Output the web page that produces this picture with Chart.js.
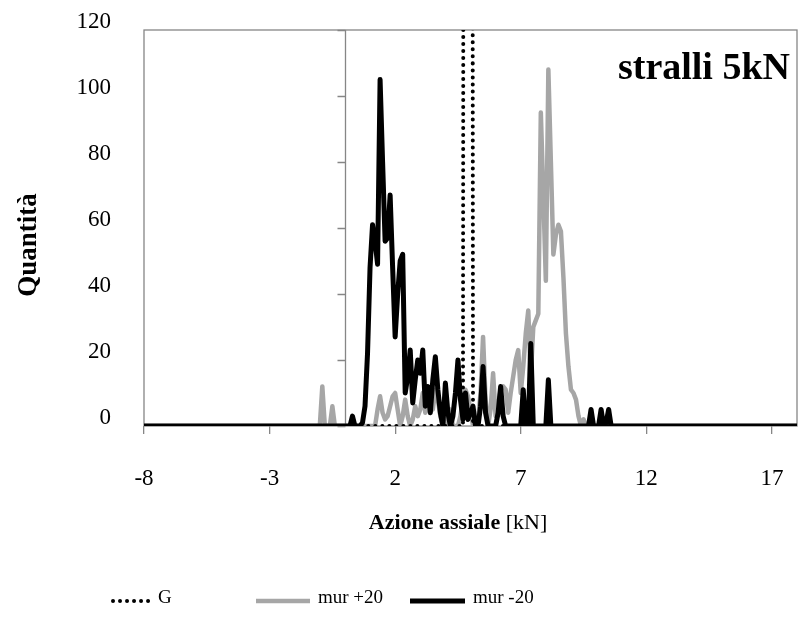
<!DOCTYPE html>
<html><head><meta charset="utf-8">
<script src="https://cdn.jsdelivr.net/npm/chart.js@4.4.0/dist/chart.umd.min.js"></script>
<style>html,body{margin:0;padding:0;background:#fff;}#wrap{width:798px;height:641px;position:relative;}</style>
</head><body><div id="wrap"><canvas id="c" width="798" height="641"></canvas></div>
<script>
// ---- data (histogram bins, kN) ----
const bins = [
 -8,
 -1.2,-1.1,-1.0,-0.9,-0.8,-0.7,-0.6,-0.5,-0.4,-0.3,
 -0.2,-0.1,0.0,0.1,0.2,0.3,0.4,0.5,0.6,0.7,
 0.8,0.9,1.0,1.1,1.2,1.3,1.4,1.5,1.6,1.7,
 1.8,1.9,2.0,2.1,2.2,2.3,2.4,2.5,2.6,2.7,
 2.8,2.9,3.0,3.1,3.2,3.3,3.4,3.5,3.6,3.7,
 3.8,3.9,4.0,4.1,4.2,4.3,4.4,4.5,4.6,4.7,
 4.8,4.9,5.0,5.1,5.2,5.3,5.4,5.5,5.6,5.7,
 5.8,5.9,6.0,6.1,6.2,6.3,6.4,6.5,6.6,6.7,
 6.8,6.9,7.0,7.1,7.2,7.3,7.4,7.5,7.6,7.7,
 7.8,7.9,8.0,8.1,8.2,8.3,8.4,8.5,8.6,8.7,
 8.8,8.9,9.0,9.1,9.2,9.3,9.4,9.5,9.6,9.7,
 9.8,9.9,10.0,10.1,10.2,10.3,10.4,10.5,10.6,10.7,
 10.8,10.9,11.0,
 18
];
const gValues = [
 0,
 0,0,0,0,0,0,0,0,0,0,
 0,0,0,0,0,0,0,0,0,0,
 0,0,0,0,0,0,0,0,0,0,
 0,0,0,0,0,0,0,0,0,0,
 0,0,0,0,0,0,0,0,0,0,
 0,0,0,0,0,0,0,0,0,0,
 1000,1000,1000,0,0,0,0,0,0,0,
 0,0,0,0,0,0,0,0,0,0,
 0,0,0,0,0,0,0,0,0,0,
 0,0,0,0,0,0,0,0,0,0,
 0,0,0,0,0,0,0,0,0,0,
 0,0,0,0,0,0,0,0,0,0,
 0,0,0,
 0
];
const murPlus20 = [
 0,
 0,0,0,12,0,0,0,6,0,0,
 0,0,0,0,0,0,0,0,0,0,
 0,0,0,0,0,5,9,4,2,3,
 6,9,10,5,0,3,8,3,0,2,
 6,3,5,10,4,6,10,5,11,8,
 3,0,0,2,5,0,0,0,3,8,
 11,9,5,0,0,2,10,27,8,0,
 5,16,3,6,11,12,11,4,10,15,
 20,23,10,18,28,35,15,30,32,34,
 95,70,44,108,80,52,58,61,59,45,
 28,18,11,10,8,3,0,2,0,0,
 0,0,0,0,0,0,0,0,0,0,
 0,0,0,
 0
];
const murMinus20 = [
 0,
 0,0,0,0,0,0,0,0,0,0,
 0,0,0,0,0,3,0,0,0,1,
 6,22,48,61,56,49,105,80,56,57,
 70,48,27,40,50,52,10,15,23,7,
 14,20,16,23,6,12,4,14,21,11,
 4,0,13,4,0,3,10,20,8,2,
 10,2,4,6,0,0,6,18,4,0,
 0,0,0,4,12,3,0,0,0,0,
 0,0,0,11,0,0,25,0,0,0,
 0,0,0,14,0,0,0,0,0,0,
 0,0,0,0,0,0,0,0,0,0,
 5,0,0,0,5,0,1,5,0,0,
 0,0,0,
 0
];
const xTickValues = [-8,-3,2,7,12,17];
const yTickValues = [0,20,40,60,80,100,120];
const seriesNames = ['G','mur +20','mur -20'];
const chartTitle = 'stralli 5kN';
const xTitleBold = 'Azione assiale';
const xTitleUnit = ' [kN]';
const yTitle = 'Quantità';

// ---- rendering ----
const FONT = '"Liberation Serif", "Times New Roman", serif';
const AXIS_GRAY = '#868686';
const toPts = vals => bins.map((x,i)=>({x:x, y:vals[i]}));
const noPad = s => { s.paddingLeft = 0; s.paddingRight = 0; s.paddingTop = 0; s.paddingBottom = 0; };

const decor = {
  id:'decor',
  beforeDatasetsDraw(chart){
    const {ctx, chartArea:a, scales:{x,y}} = chart;
    ctx.save();
    ctx.strokeStyle = AXIS_GRAY; ctx.lineWidth = 1.3;
    ctx.strokeRect(a.left, a.top, a.right-a.left, a.bottom-a.top);
    const x0 = Math.round(x.getPixelForValue(0))+0.5;
    ctx.beginPath();
    ctx.moveTo(x0, a.top); ctx.lineTo(x0, a.bottom);
    yTickValues.forEach(v=>{
      const py = Math.round(y.getPixelForValue(v))+0.5;
      ctx.moveTo(x0-8, py); ctx.lineTo(x0, py);
    });
    ctx.stroke();
    ctx.restore();
  },
  afterDraw(chart){
    const {ctx} = chart;
    ctx.save();
    ctx.fillStyle = '#000';
    // title
    ctx.font = 'bold 38px ' + FONT;
    ctx.textAlign = 'right'; ctx.textBaseline = 'alphabetic';
    ctx.fillText(chartTitle, 790, 79);
    // y title
    ctx.save();
    ctx.translate(29, 245); ctx.rotate(-Math.PI/2);
    ctx.font = 'bold 27px ' + FONT;
    ctx.textAlign = 'center'; ctx.textBaseline = 'middle';
    ctx.fillText(yTitle, 0, 0);
    ctx.restore();
    // x title (bold + regular)
    ctx.textBaseline = 'middle'; ctx.textAlign = 'left';
    ctx.font = 'bold 22px ' + FONT; const w1 = ctx.measureText(xTitleBold).width;
    ctx.font = '22px ' + FONT; const w2 = ctx.measureText(xTitleUnit).width;
    let sx = 458 - (w1+w2)/2;
    ctx.font = 'bold 22px ' + FONT; ctx.fillText(xTitleBold, sx, 523);
    ctx.font = '22px ' + FONT; ctx.fillText(xTitleUnit, sx+w1, 523);
    // legend
    const ly = 601;
    const layout = [{x1:113,x2:152,tx:158},{x1:256,x2:310,tx:318},{x1:410,x2:465,tx:473}];
    chart.data.datasets.forEach((ds,i)=>{
      const L = layout[i];
      ctx.save();
      ctx.strokeStyle = ds.borderColor; ctx.lineWidth = ds.borderWidth;
      ctx.lineCap = ds.borderCapStyle || 'butt';
      ctx.setLineDash(ds.borderDash || []);
      ctx.beginPath(); ctx.moveTo(L.x1, ly); ctx.lineTo(L.x2, ly); ctx.stroke();
      ctx.restore();
      ctx.font = '19px ' + FONT; ctx.textAlign='left'; ctx.textBaseline='middle';
      ctx.fillText(seriesNames[i], L.tx, ly-3);
    });
    ctx.restore();
  }
};

new Chart(document.getElementById('c'), {
  type:'line',
  data:{datasets:[
    {label:seriesNames[0], data:toPts(gValues), borderColor:'#000000', borderWidth:4,
     borderDash:[0.01,7], borderCapStyle:'round', pointRadius:0, tension:0, order:1},
    {label:seriesNames[1], data:toPts(murPlus20), borderColor:'#A6A6A6', borderWidth:4.5,
     borderJoinStyle:'round', borderCapStyle:'butt', pointRadius:0, tension:0, order:2},
    {label:seriesNames[2], data:toPts(murMinus20), borderColor:'#000000', borderWidth:5,
     borderJoinStyle:'round', borderCapStyle:'butt', pointRadius:0, tension:0, order:0}
  ]},
  options:{
    responsive:false, animation:false, devicePixelRatio:1,
    layout:{padding:{top:30,right:1,left:0,bottom:0}},
    plugins:{legend:{display:false}, tooltip:{enabled:false}},
    scales:{
      x:{type:'linear', min:-8, max:18,
        afterBuildTicks:s=>{s.ticks = xTickValues.map(v=>({value:v}));},
        afterFit:s=>{s.height = 215; noPad(s);},
        ticks:{font:{family:FONT,size:23}, color:'#000', padding:31, maxRotation:0, autoSkip:false},
        grid:{drawOnChartArea:false, drawTicks:true, tickLength:8, color:AXIS_GRAY, lineWidth:1.3},
        border:{display:false}},
      y:{min:0, max:120,
        afterBuildTicks:s=>{s.ticks = yTickValues.map(v=>({value:v}));},
        afterFit:s=>{s.width = 144; noPad(s);},
        ticks:{font:{family:FONT,size:23}, color:'#000', padding:33, labelOffset:-8},
        grid:{display:false, drawTicks:false},
        border:{display:false}}
    }
  },
  plugins:[decor]
});
</script></body></html>
